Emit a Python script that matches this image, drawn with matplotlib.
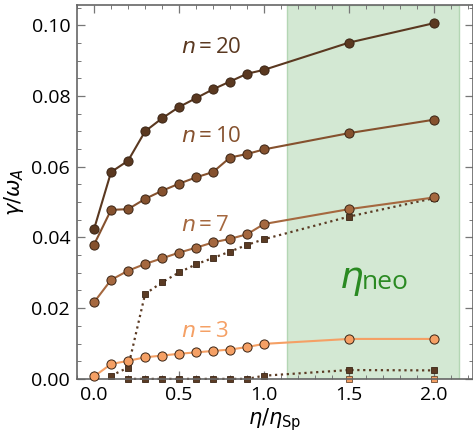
import matplotlib.pyplot as plt
from matplotlib.ticker import MultipleLocator

plt.rcParams['font.family'] = ['Open Sans', 'DejaVu Sans']
plt.rcParams['mathtext.fontset'] = 'dejavusans'

# eta / eta_Sp
eta = [0.0, 0.1, 0.2, 0.3, 0.4, 0.5, 0.6, 0.7, 0.8, 0.9, 1.0, 1.5, 2.0]

# growth rates gamma / omega_A (circles, solid)
g20 = [0.0424, 0.0585, 0.0617, 0.0700, 0.0737, 0.0769, 0.0794, 0.0819, 0.0841, 0.0863, 0.0874, 0.0951, 0.1006]
g10 = [0.0380, 0.0478, 0.0480, 0.0509, 0.0532, 0.0552, 0.0570, 0.0585, 0.0626, 0.0636, 0.0649, 0.0695, 0.0733]
g7 = [0.0217, 0.0280, 0.0306, 0.0325, 0.0341, 0.0357, 0.0371, 0.0386, 0.0396, 0.0409, 0.0438, 0.0480, 0.0513]
g3 = [0.0007, 0.0042, 0.0051, 0.0061, 0.0066, 0.0071, 0.0075, 0.0079, 0.0083, 0.0090, 0.0099, 0.0113, 0.0113]

# squares, dotted
eta_sq7 = [0.1, 0.2, 0.3, 0.4, 0.5, 0.6, 0.7, 0.8, 0.9, 1.0, 1.5, 2.0]
sq7 = [0.0009, 0.0032, 0.0240, 0.0273, 0.0301, 0.0324, 0.0342, 0.0360, 0.0379, 0.0395, 0.0459, 0.0511]
eta_sq3 = [0.2, 0.3, 0.4, 0.5, 0.6, 0.7, 0.8, 0.9, 1.0, 1.5, 2.0]
sq3 = [0.0, 0.0, 0.0, 0.0, 0.0, 0.0, 0.0, 0.0, 0.0009, 0.0025, 0.0024]
eta_sq3b = [1.5, 2.0]
sq3b = [0.0, 0.0]

c20 = '#5a3820'
c10 = '#85512e'
c7 = '#a5683f'
c3 = '#f5a065'
csq = '#5b3b24'

fig = plt.figure(figsize=(4.73, 4.36), dpi=100)
ax = fig.add_axes([0.163, 0.131, 0.837, 0.858])

ax.axvspan(1.137, 2.145, facecolor='#d3e8d3', edgecolor='#b4d6b4', lw=1, zorder=0)

ax.plot(eta_sq3b, sq3b, 's', color=c3, mec='#6a4a30', mew=0.6, ms=4.2, zorder=2, clip_on=False)
ax.plot(eta_sq7, sq7, ':', color=csq, lw=1.6, marker='s', ms=4.2, mec='#3a2414', mew=0.6, zorder=2, clip_on=False)
ax.plot(eta_sq3, sq3, ':', color=csq, lw=1.6, marker='s', ms=4.2, mec='#3a2414', mew=0.6, zorder=2, clip_on=False)

for g, c in [(g3, c3), (g7, c7), (g10, c10), (g20, c20)]:
    ax.plot(eta, g, '-', color=c, lw=1.5, marker='o', ms=6.6, mfc=c, mec='#3a2414', mew=0.7,
            zorder=3, clip_on=False)

lab_fs = 16
ax.text(0.51, 0.0936, r'$n\,$=$\,$20', color=c20, fontsize=lab_fs, va='center')
ax.text(0.51, 0.0685, r'$n\,$=$\,$10', color=c10, fontsize=lab_fs, va='center')
ax.text(0.51, 0.0433, r'$n\,$=$\,$7', color=c7, fontsize=lab_fs, va='center')
ax.text(0.51, 0.0133, r'$n\,$=$\,$3', color=c3, fontsize=lab_fs, va='center')

ax.text(1.44, 0.0282, r'$\eta$', color='#2a8a22', fontsize=27, va='center', ha='left')
ax.text(1.575, 0.0272, 'neo', color='#2a8a22', fontsize=19, va='center', ha='left')

ax.set_xlim(-0.1, 2.23)
ax.set_ylim(0, 0.1058)
ax.set_xticks([0.0, 0.5, 1.0, 1.5, 2.0])
ax.set_yticks([0.00, 0.02, 0.04, 0.06, 0.08, 0.10])
ax.xaxis.set_minor_locator(MultipleLocator(0.1))
ax.yaxis.set_minor_locator(MultipleLocator(0.005))
ax.set_xticklabels(['0.0', '0.5', '1.0', '1.5', '2.0'])
ax.set_yticklabels(['0.00', '0.02', '0.04', '0.06', '0.08', '0.10'])
ax.tick_params(which='both', direction='in', top=True, right=True, color='#777777',
               labelsize=14, pad=5)
ax.tick_params(which='major', length=6, width=0.9)
ax.tick_params(which='minor', length=3, width=0.7)
for s in ax.spines.values():
    s.set_color('#666666')
    s.set_linewidth(1.2)

ax.set_xlabel(r'$\eta/\eta_{\rm Sp}$', fontsize=15, labelpad=2)
ax.set_ylabel(r'$\gamma/\omega_A$', fontsize=15, labelpad=4)

fig.savefig('out.png', dpi=100)
